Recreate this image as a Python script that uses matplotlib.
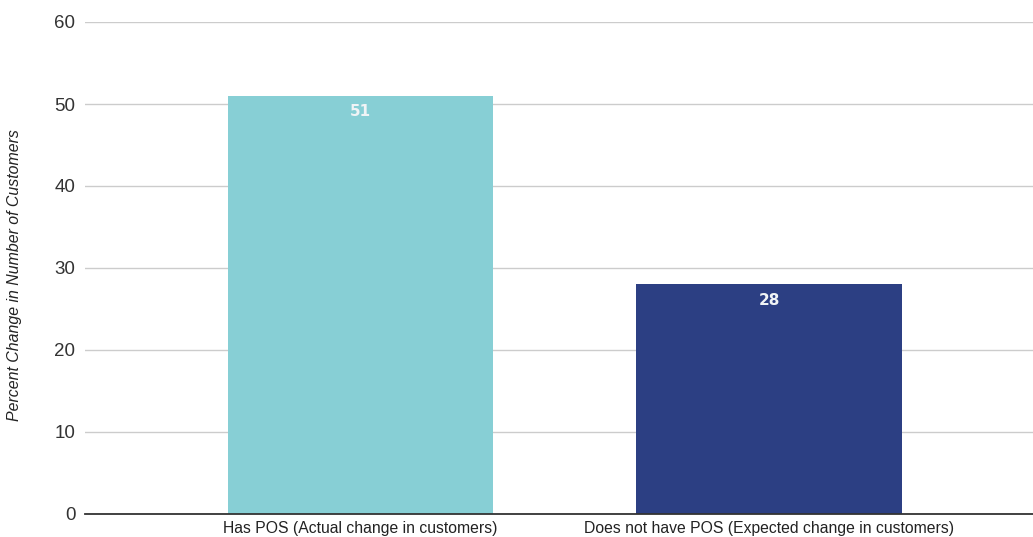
import matplotlib
matplotlib.use("Agg")
import matplotlib.pyplot as plt

categories = ["Has POS (Actual change in customers)",
              "Does not have POS (Expected change in customers)"]
values = [51, 28]
colors = ["#87cfd5", "#2c3f83"]
yticks = [0, 10, 20, 30, 40, 50, 60]

plt.rcParams['font.family'] = ['Liberation Sans', 'DejaVu Sans']

fig = plt.figure(figsize=(10.33, 5.37), dpi=100)
ax = fig.add_axes([85/1033, 23/537, 948/1033, 492/537])

x = list(range(len(categories)))
bars = ax.bar(x, values, width=0.649, color=colors, zorder=3)

for b, v in zip(bars, values):
    ax.annotate(str(v), (b.get_x() + b.get_width()/2, v),
                xytext=(0, -16), textcoords="offset pixels",
                ha="center", va="center", color="#f0f4f6",
                fontsize=11, fontweight="bold", family="DejaVu Sans", zorder=4)

ax.set_xlim(-0.674, 1.646)
ax.set_ylim(0, 60)
ax.set_yticks(yticks)
ax.set_xticks(x)
ax.set_xticklabels(categories, fontsize=11.3, color="#222222")
ax.tick_params(axis="y", labelsize=13.5, colors="#333333", length=0, pad=7)
ax.tick_params(axis="x", length=0, pad=5)
ax.yaxis.grid(True, color="#cccccc", linewidth=1, zorder=0)
for s in ["top", "right", "left"]:
    ax.spines[s].set_visible(False)
ax.spines["bottom"].set_color("#333333")
ax.spines["bottom"].set_linewidth(1.3)
ax.spines["bottom"].set_zorder(5)

# y axis title sits near the left edge of the figure
fig.text(15/1033, 1 - 275/537, "Percent Change in Number of Customers",
         rotation=90, fontsize=11.4, style="italic", color="#222222",
         ha="center", va="center")

fig.savefig("out.png", dpi=100)
